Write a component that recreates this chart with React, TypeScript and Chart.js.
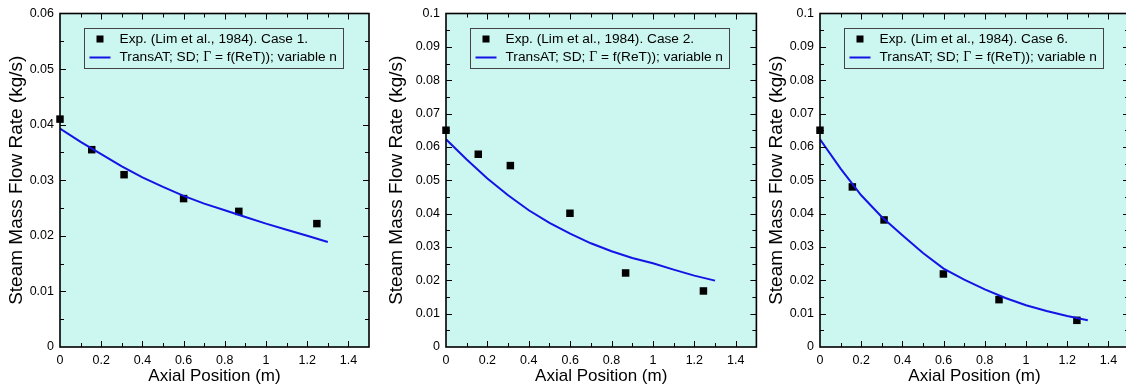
import React, { useEffect, useRef } from 'react';
import { Chart, registerables } from 'chart.js';

Chart.register(...registerables);

// ---------- data ----------
const simX = [0, 0.1, 0.2, 0.3, 0.4, 0.5, 0.6, 0.7, 0.8, 0.9, 1.0, 1.1, 1.2, 1.3];

const expX1 = [0, 0.154, 0.311, 0.6, 0.868, 1.247];
const expY1 = [0.041, 0.0355, 0.031, 0.0267, 0.0244, 0.0222];
const simY1 = [0.0393, 0.0369, 0.0347, 0.0325, 0.0305, 0.0288, 0.0272, 0.0258, 0.0246, 0.0234, 0.0222, 0.0211, 0.02, 0.0189];

const expX2 = [0, 0.156, 0.311, 0.599, 0.868, 1.244];
const expY2 = [0.065, 0.0578, 0.0544, 0.0401, 0.0222, 0.0168];
const simY2 = [0.0623, 0.0562, 0.0505, 0.0455, 0.041, 0.0372, 0.034, 0.0311, 0.0287, 0.0267, 0.0251, 0.0232, 0.0214, 0.0199];

const expX3 = [0, 0.157, 0.311, 0.599, 0.869, 1.247];
const expY3 = [0.065, 0.048, 0.0381, 0.0219, 0.0142, 0.008];
const simY3 = [0.0623, 0.0535, 0.0455, 0.039, 0.0335, 0.0282, 0.0235, 0.0202, 0.0173, 0.0147, 0.0125, 0.0108, 0.0093, 0.008];

const yMaxes = [0.06, 0.1, 0.1];
const expLabels = [
  'Exp. (Lim et al., 1984). Case 1.',
  'Exp. (Lim et al., 1984). Case 2.',
  'Exp. (Lim et al., 1984). Case 6.',
];
const simLabelParts = ['TransAT; SD; ', '\u0393', ' = f(ReT)); variable n'];
const xTitle = 'Axial Position (m)';
const yTitle = 'Steam Mass Flow Rate (kg/s)';

// ---------- style ----------
const SANS = '"Liberation Sans", Arial, Helvetica, sans-serif';
const SERIF = '"Liberation Serif", "Times New Roman", serif';
const BG = 'rgb(204,246,240)';
const BLUE = '#1414e6';

Chart.defaults.font.family = SANS;

const fmt = (v: number) => String(Math.round(v * 10000) / 10000);

const framePlugin = {
  id: 'frame',
  beforeDraw(chart: any) {
    const { ctx, chartArea: a } = chart;
    ctx.save();
    ctx.fillStyle = BG;
    ctx.fillRect(a.left, a.top, a.right - a.left, a.bottom - a.top);
    ctx.restore();
  },
  afterDraw(chart: any, _args: any, opts: any) {
    const { ctx, chartArea: a, scales } = chart;
    const xs = scales.x;
    const ys = scales.y;
    ctx.save();
    ctx.strokeStyle = '#000';
    ctx.lineWidth = 1;
    const nx = Math.round((xs.max - xs.min) / opts.xMinor);
    for (let i = 1; i < nx; i++) {
      const px = Math.round(xs.getPixelForValue(xs.min + i * opts.xMinor)) + 0.5;
      const len = i % 2 === 0 ? 6 : 4;
      ctx.beginPath();
      ctx.moveTo(px, a.bottom);
      ctx.lineTo(px, a.bottom - len);
      ctx.moveTo(px, a.top);
      ctx.lineTo(px, a.top + len);
      ctx.stroke();
    }
    const ny = Math.round((ys.max - ys.min) / opts.yMinor);
    for (let i = 1; i < ny; i++) {
      const py = Math.round(ys.getPixelForValue(ys.min + i * opts.yMinor)) + 0.5;
      const len = i % 2 === 0 ? 6 : 4;
      ctx.beginPath();
      ctx.moveTo(a.left, py);
      ctx.lineTo(a.left + len, py);
      ctx.moveTo(a.right, py);
      ctx.lineTo(a.right - len, py);
      ctx.stroke();
    }
    ctx.lineWidth = 1.6;
    ctx.strokeRect(a.left, a.top, a.right - a.left, a.bottom - a.top);

    // legend box
    const x0 = Math.round(a.left + 24) + 0.5;
    const y0 = Math.round(a.top + 14) + 0.5;
    const w = 259;
    const h = 40;
    ctx.strokeStyle = '#444';
    ctx.lineWidth = 1;
    ctx.strokeRect(x0, y0, w, h);
    const r1 = y0 + 10.5;
    const r2 = y0 + 29;
    ctx.fillStyle = '#000';
    ctx.fillRect(x0 + 12, r1 - 3.5, 7, 7);
    ctx.strokeStyle = BLUE;
    ctx.lineWidth = 2;
    ctx.beginPath();
    ctx.moveTo(x0 + 5, r2);
    ctx.lineTo(x0 + 26, r2);
    ctx.stroke();
    ctx.fillStyle = '#000';
    ctx.textBaseline = 'middle';
    ctx.textAlign = 'left';
    const fs = 13.7;
    ctx.font = `${fs}px ${SANS}`;
    ctx.fillText(opts.expLabel, x0 + 35, r1);
    let tx = x0 + 35;
    simLabelParts.forEach((part, i) => {
      ctx.font = i === 1 ? `${fs}px ${SERIF}` : `${fs}px ${SANS}`;
      ctx.fillText(part, tx, r2);
      tx += ctx.measureText(part).width;
    });
    ctx.restore();
  },
};

type PanelProps = {
  left: number;
  width: number;
  axisWidth: number;
  rightPad: number;
  yMax: number;
  expX: number[];
  expY: number[];
  simY: number[];
  expLabel: string;
};

function Panel(p: PanelProps) {
  const ref = useRef<HTMLCanvasElement | null>(null);
  useEffect(() => {
    if (!ref.current) return;
    const chart = new Chart(ref.current, {
      type: 'scatter',
      data: {
        datasets: [
          {
            label: simLabelParts.join(''),
            data: simX.map((x, i) => ({ x, y: p.simY[i] })),
            showLine: true,
            borderColor: BLUE,
            backgroundColor: BLUE,
            borderWidth: 2,
            pointRadius: 0,
            tension: 0,
            order: 0,
          } as any,
          {
            label: p.expLabel,
            data: p.expX.map((x, i) => ({ x, y: p.expY[i] })),
            showLine: false,
            pointStyle: 'rect',
            pointRadius: 5.3,
            backgroundColor: '#000',
            borderColor: '#000',
            borderWidth: 0,
            clip: false,
            order: 1,
          } as any,
        ],
      },
      options: {
        responsive: false,
        animation: false,
        layout: { padding: { top: 8, right: p.rightPad, left: 0, bottom: 0 } },
        plugins: {
          legend: { display: false },
          tooltip: { enabled: false },
          frame: { xMinor: 0.1, yMinor: 0.005, expLabel: p.expLabel },
        } as any,
        scales: {
          x: {
            type: 'linear',
            min: 0,
            max: 1.5,
            grid: { display: false, drawTicks: false },
            border: { display: false },
            ticks: {
              stepSize: 0.2,
              includeBounds: false,
              color: '#000',
              font: { size: 12.5 },
              padding: 6,
              maxRotation: 0,
              callback: (v: any) => fmt(Number(v)),
            } as any,
            title: {
              display: true,
              text: xTitle,
              color: '#000',
              font: { size: 17 },
              padding: { top: 0, bottom: 0 },
            },
            afterFit: (s: any) => {
              s.height = 40;
            },
          },
          y: {
            type: 'linear',
            min: 0,
            max: p.yMax,
            grid: { display: false, drawTicks: false },
            border: { display: false },
            ticks: {
              stepSize: 0.01,
              color: '#000',
              font: { size: 12.5 },
              padding: 6,
              callback: (v: any) => fmt(Number(v)),
            },
            title: {
              display: true,
              text: yTitle,
              color: '#000',
              font: { size: 19 },
              padding: { top: 5, bottom: 0 },
            },
            afterFit: (s: any) => {
              s.width = p.axisWidth;
            },
          },
        },
      } as any,
      plugins: [framePlugin],
    });
    return () => chart.destroy();
  }, []);
  return (
    <canvas
      ref={ref}
      width={p.width}
      height={387}
      style={{ position: 'absolute', left: p.left, top: 0, width: p.width, height: 387 }}
    />
  );
}

export default function App() {
  return (
    <div
      style={{
        position: 'absolute',
        left: 0,
        top: 0,
        width: 1126,
        height: 387,
        overflow: 'hidden',
        background: '#fff',
      }}
    >
      <Panel left={0} width={375} axisWidth={60} rightPad={6} yMax={yMaxes[0]} expX={expX1} expY={expY1} simY={simY1} expLabel={expLabels[0]} />
      <Panel left={380} width={382} axisWidth={66} rightPad={5.6} yMax={yMaxes[1]} expX={expX2} expY={expY2} simY={simY2} expLabel={expLabels[1]} />
      <Panel left={760} width={375} axisWidth={60} rightPad={6} yMax={yMaxes[2]} expX={expX3} expY={expY3} simY={simY3} expLabel={expLabels[2]} />
    </div>
  );
}
